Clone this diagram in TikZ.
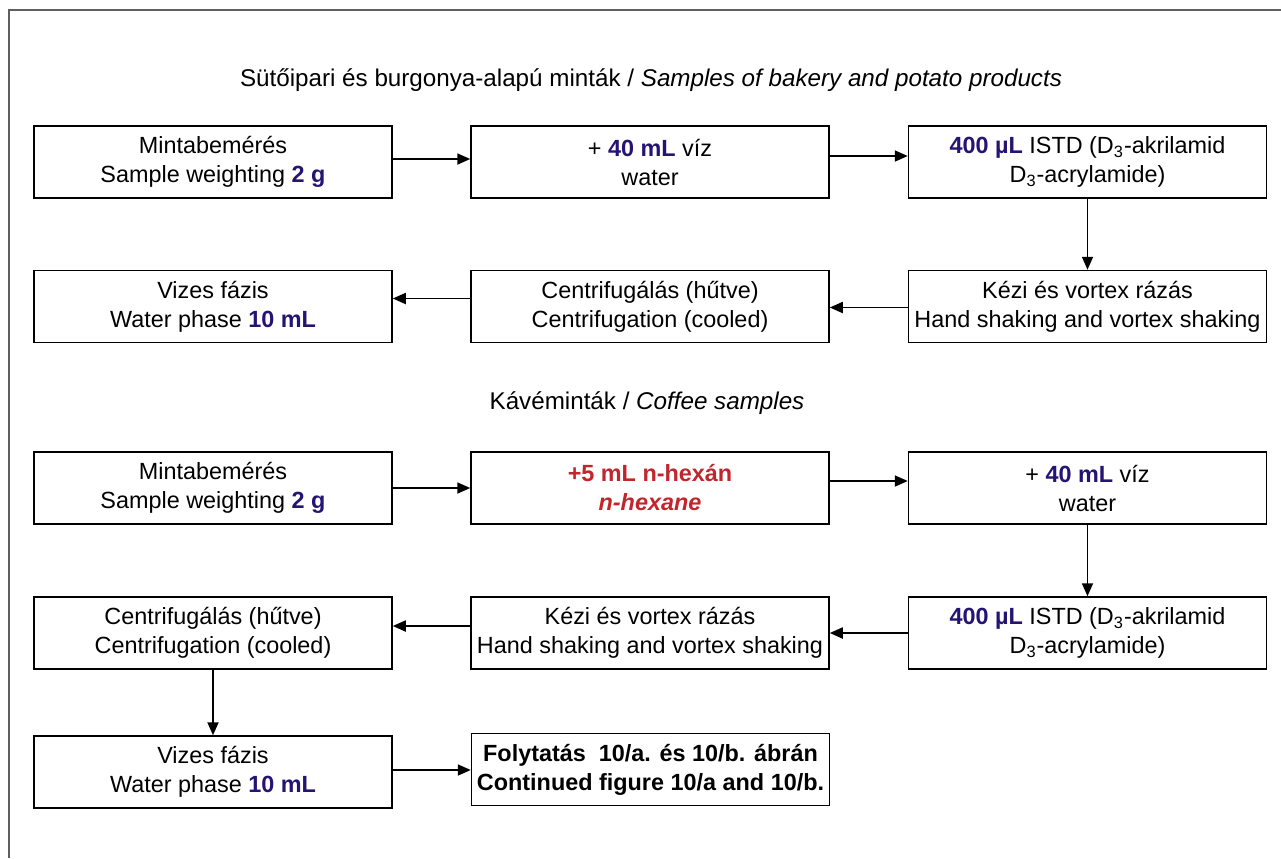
\documentclass[tikz,border=0pt]{standalone}
\usepackage{fontspec}
\setmainfont{Liberation Sans}
\usetikzlibrary{arrows.meta}
\definecolor{nblue}{RGB}{38,20,115}
\definecolor{nred}{RGB}{192,38,44}
\definecolor{framegray}{RGB}{95,95,95}
\newcommand{\bl}[1]{\textbf{\color{nblue}#1}}
\begin{document}
\begin{tikzpicture}[x=0.5pt,y=-0.5pt,
  box/.style={draw=black, line width=0.75pt, fill=white, minimum width=179pt, minimum height=36pt, inner sep=0pt, align=center, font=\fontsize{11.7}{14.5}\selectfont},
  ttl/.style={inner sep=0pt, font=\fontsize{12.1}{14.5}\selectfont},
  arr/.style={line width=0.9pt, -{Triangle[length=6.5pt,width=5.5pt]}}]
\useasboundingbox (0,0) rectangle (1281,858);
\draw[framegray, line width=1pt] (9,858) -- (9,10) -- (1281,10);

\node[ttl] (t1) at (651,80) {Sütőipari és burgonya-alapú minták / \textit{Samples of bakery and potato products}};
\node[ttl] (t2) at (647,403) {Kávéminták / \textit{Coffee samples}};

% row 1
\node[box] (a1) at (213,162) {Mintabemérés\\Sample weighting \bl{2 g}};
\node[box] (b1) at (650,162) {+ \bl{40 mL} víz\\water};
\node[box] (c1) at (1087.5,162) {\bl{400 µL} ISTD (D\textsubscript{3}-akrilamid\\D\textsubscript{3}-acrylamide)};
% row 2
\node[box] (a2) at (213,306.5) {Vizes fázis\\Water phase \bl{10 mL}};
\node[box] (b2) at (650,306.5) {Centrifugálás (hűtve)\\Centrifugation (cooled)};
\node[box] (c2) at (1087.5,306.5) {Kézi és vortex rázás\\Hand shaking and vortex shaking};
% row 3
\node[box] (a3) at (213,488) {Mintabemérés\\Sample weighting \bl{2 g}};
\node[box] (b3) at (650,488) {\textbf{\color{nred}+5 mL n-hexán}\\\textbf{\textit{\color{nred}n-hexane}}};
\node[box] (c3) at (1087.5,488) {+ \bl{40 mL} víz\\water};
% row 4
\node[box] (a4) at (213,633) {Centrifugálás (hűtve)\\Centrifugation (cooled)};
\node[box] (b4) at (650,633) {Kézi és vortex rázás\\Hand shaking and vortex shaking};
\node[box] (c4) at (1087.5,633) {\bl{400 µL} ISTD (D\textsubscript{3}-akrilamid\\D\textsubscript{3}-acrylamide)};
% row 5
\node[box] (a5) at (213,772) {Vizes fázis\\Water phase \bl{10 mL}};
\node[box] (b5) at (650.5,769.5) {\textbf{Folytatás\ \ 10/a. és 10/b. ábrán}\\\textbf{Continued figure 10/a and 10/b.}};

% connectors
\draw[arr] ([yshift=1.5pt]a1.east) -- ([yshift=1.5pt]b1.west);
\draw[arr] ([yshift=3pt]b1.east) -- ([yshift=3pt]c1.west);
\draw[arr] (c1.south) -- (c2.north);
\draw[arr] ([yshift=-0.5pt]c2.west) -- ([yshift=-0.5pt]b2.east);
\draw[arr] ([yshift=4pt]b2.west) -- ([yshift=4pt]a2.east);

\draw[arr] (a3.east) -- (b3.west);
\draw[arr] ([yshift=3.5pt]b3.east) -- ([yshift=3.5pt]c3.west);
\draw[arr] (c3.south) -- (c4.north);
\draw[arr] (c4.west) -- (b4.east);
\draw[arr] ([yshift=3.5pt]b4.west) -- ([yshift=3.5pt]a4.east);
\draw[arr] (a4.south) -- (a5.north);
\draw[arr] ([yshift=1pt]a5.east) -- ([yshift=1pt]a5.east -| b5.west);
\end{tikzpicture}
\end{document}
